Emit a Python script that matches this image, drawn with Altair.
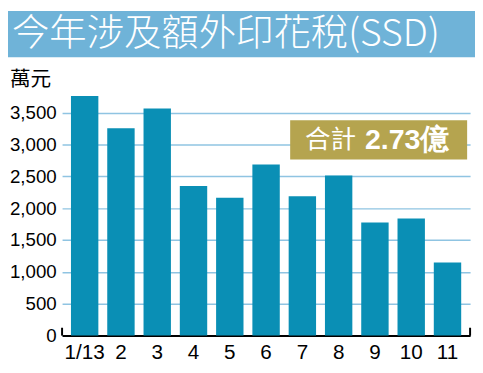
import altair as alt
import pandas as pd

months = ["1/13", "2", "3", "4", "5", "6", "7", "8", "9", "10", "11"]
values = [3762, 3253, 3566, 2347, 2162, 2686, 2188, 2512, 1776, 1838, 1148]
y_ticks = [0, 500, 1000, 1500, 2000, 2500, 3000, 3500]
title_text = ["今年涉及額外印花稅(SSD)"]
unit_text = ["萬元"]
total_label = ["合計"]
total_value = ["2.73億"]

W, H = 415, 275.4
df = pd.DataFrame({"month": months, "value": values})
one = lambda s: pd.DataFrame({"t": s})

BAR = "#0a8fb5"
BANNER = "#6fb3d8"
GOLD = "#b5a44f"
CJK = "Noto Sans CJK TC"
LAT = "Liberation Sans"

bars = alt.Chart(df).mark_bar(color=BAR).encode(
    x=alt.X("month:N", sort=months,
            scale=alt.Scale(paddingInner=0.245, paddingOuter=0.245),
            axis=alt.Axis(title=None, labelAngle=0, ticks=False, domainColor="black",
                          domainWidth=2, labelFontSize=21, labelFont=LAT,
                          labelColor="black", labelPadding=6, grid=False)),
    y=alt.Y("value:Q", scale=alt.Scale(domain=[0, 4250], nice=False),
            axis=alt.Axis(title=None, values=y_ticks, format=",d", domain=False,
                          ticks=False, labelFontSize=19, labelFont=LAT,
                          labelColor="black", labelPadding=6, grid=True,
                          gridColor="#8fc4e2", gridWidth=1.5)),
)

banner = alt.Chart(one([""])).mark_rect(color=BANNER).encode(
    x=alt.value(-55), x2=alt.value(420), y=alt.value(-54.7), y2=alt.value(-7.7))

title = alt.Chart(one(title_text)).mark_text(
    align="left", baseline="middle", font=CJK, fontSize=38, fontWeight=300, color="white"
).encode(text="t:N", x=alt.value(-51), y=alt.value(-30.5))

unit = alt.Chart(one(unit_text)).mark_text(
    align="left", baseline="middle", font=CJK, fontSize=21, color="black"
).encode(text="t:N", x=alt.value(-53), y=alt.value(15.5))

box = alt.Chart(one([""])).mark_rect(color=GOLD).encode(
    x=alt.value(232), x2=alt.value(412), y=alt.value(56.3), y2=alt.value(96.3))

box_t1 = alt.Chart(one(total_label)).mark_text(
    align="left", baseline="middle", font=CJK, fontSize=26, color="white"
).encode(text="t:N", x=alt.value(247), y=alt.value(76.5))

box_t2 = alt.Chart(one(total_value)).mark_text(
    align="left", baseline="middle", font=LAT, fontSize=29, fontWeight="bold", color="white"
).encode(text="t:N", x=alt.value(308), y=alt.value(76.5))

tick_l = alt.Chart(one([""])).mark_rule(color="black", strokeWidth=2).encode(
    x=alt.value(0), y=alt.value(H - 8), y2=alt.value(H))
tick_r = alt.Chart(one([""])).mark_rule(color="black", strokeWidth=2).encode(
    x=alt.value(W), y=alt.value(H - 8), y2=alt.value(H))

chart = alt.layer(banner, title, unit, bars, box, box_t1, box_t2, tick_l, tick_r).properties(
    width=W, height=H,
    padding={"left": 55, "top": 54.7, "right": 5, "bottom": 35},
    autosize="none", background="white",
).configure_view(stroke=None)

chart.save("out.html", embed_options={"renderer": "svg", "actions": False})
